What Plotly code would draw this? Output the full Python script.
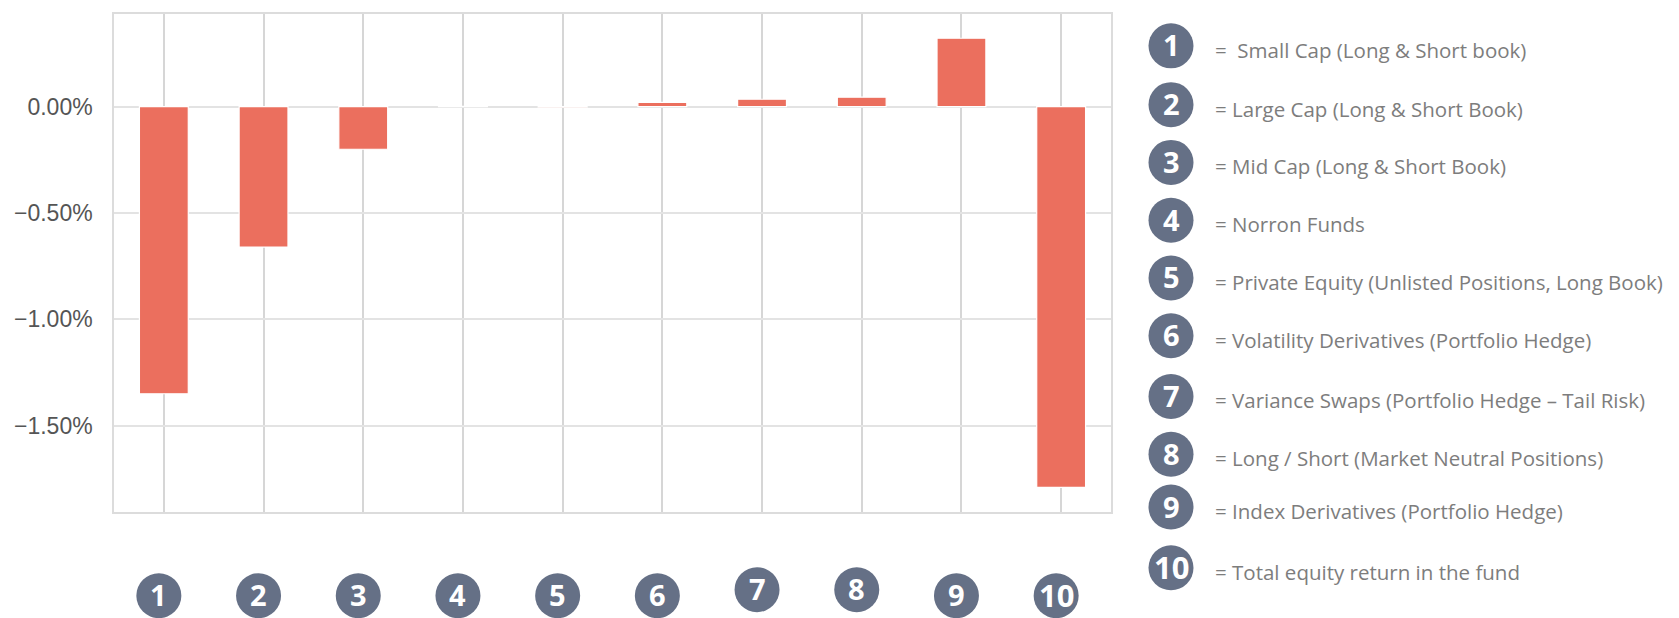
import plotly.graph_objects as go

# ---------------- data ----------------
categories = [1, 2, 3, 4, 5, 6, 7, 8, 9, 10]
returns = [-0.0135, -0.0066, -0.0020, 0.00002, -0.00002, 0.0002, 0.00035, 0.00045, 0.00322, -0.0179]
badge_labels = ["1", "2", "3", "4", "5", "6", "7", "8", "9", "10"]
legend_texts = [
    "=  Small Cap (Long & Short book)",
    "= Large Cap (Long & Short Book)",
    "= Mid Cap (Long & Short Book)",
    "= Norron Funds",
    "= Private Equity (Unlisted Positions, Long Book)",
    "= Volatility Derivatives (Portfolio Hedge)",
    "= Variance Swaps (Portfolio Hedge \u2013 Tail Risk)",
    "= Long / Short (Market Neutral Positions)",
    "= Index Derivatives (Portfolio Hedge)",
    "= Total equity return in the fund",
]

# ---------------- layout constants (screen pixels) ----------------
OFF = 8                      # default page body margin
SW, SH = 1679, 618           # browser window
W, H = SW - OFF, SH - OFF    # figure size
PLOT_L, PLOT_R, PLOT_T, PLOT_B = 114, 1111, 12, 512
ML, MR = PLOT_L - OFF, SW - PLOT_R
MT, MB = PLOT_T - OFF, SH - PLOT_B
PW, PH = W - ML - MR, H - MT - MB

BAR_COLOR = "#EB6F5E"
BADGE_COLOR = "#657086"
TEXT_GRAY = "#7d7d7d"
R = 22.5

def sx(px):
    return (px - OFF - ML) / PW

def sy(py):
    return (H - MB - (py - OFF)) / PH

badge_y_px = [596, 596, 596, 596, 596, 596, 590, 590, 596, 596]
badge_dx = -5
legend_y_px = [44, 103, 161, 219, 277, 335, 396, 454, 507, 568]
legend_circle_x = 1171
legend_text_x = 1213

fig = go.Figure()
fig.add_trace(go.Bar(
    x=categories, y=returns, width=0.49,
    marker=dict(color=BAR_COLOR, line=dict(color="white", width=1.2)),
    hoverinfo="skip",
))

shapes = []
annotations = []
num_font = lambda lab: dict(family="Open Sans", size=31 if len(lab) > 1 else 29, color="white")

for cat, lab, by in zip(categories, badge_labels, badge_y_px):
    yp = sy(by)
    shapes.append(dict(
        type="circle", xref="x", yref="paper",
        xsizemode="pixel", ysizemode="pixel",
        xanchor=cat, yanchor=yp,
        x0=badge_dx - R, x1=badge_dx + R, y0=-R, y1=R,
        fillcolor=BADGE_COLOR, line=dict(width=0), layer="above",
    ))
    annotations.append(dict(
        x=cat, xref="x", xshift=badge_dx, y=yp, yref="paper", yshift=1,
        text="<b>%s</b>" % lab, showarrow=False, font=num_font(lab),
        xanchor="center", yanchor="middle",
    ))

for lab, txt, ly in zip(badge_labels, legend_texts, legend_y_px):
    yp = sy(ly)
    shapes.append(dict(
        type="circle", xref="paper", yref="paper",
        xsizemode="pixel", ysizemode="pixel",
        xanchor=sx(legend_circle_x), yanchor=yp,
        x0=-R, x1=R, y0=-R, y1=R,
        fillcolor=BADGE_COLOR, line=dict(width=0), layer="above",
    ))
    annotations.append(dict(
        x=sx(legend_circle_x), xref="paper", y=yp, yref="paper", yshift=1,
        text="<b>%s</b>" % lab, showarrow=False, font=num_font(lab),
        xanchor="center", yanchor="middle",
    ))
    annotations.append(dict(
        x=sx(legend_text_x), xref="paper", y=sy(ly + 4), yref="paper",
        text=txt, showarrow=False,
        font=dict(family="Open Sans", size=20.5, color=TEXT_GRAY),
        xanchor="left", yanchor="middle",
    ))

fig.update_layout(
    width=W, height=H,
    margin=dict(l=ML, r=MR, t=MT, b=MB, pad=0),
    paper_bgcolor="white", plot_bgcolor="white",
    showlegend=False,
    shapes=shapes, annotations=annotations,
)
fig.update_xaxes(
    range=[0.5, 10.5], tickmode="array", tickvals=categories,
    showticklabels=False, ticks="",
    showgrid=True, gridcolor="#d6d6d6", gridwidth=2,
    showline=True, mirror=True, linecolor="#dcdcdc", linewidth=1.5,
    zeroline=False,
)
fig.update_yaxes(
    range=[-0.01906, 0.00436], tick0=0, dtick=0.005, tickformat=".2%",
    showgrid=True, gridcolor="#e3e3e3", gridwidth=1.5,
    showline=True, mirror=True, linecolor="#dcdcdc", linewidth=1.5,
    zeroline=False,
    ticks="outside", ticklen=15, tickcolor="rgba(0,0,0,0)",
    tickfont=dict(family="Liberation Sans", size=23, color="#555555"),
)

fig.write_html("out.html")
